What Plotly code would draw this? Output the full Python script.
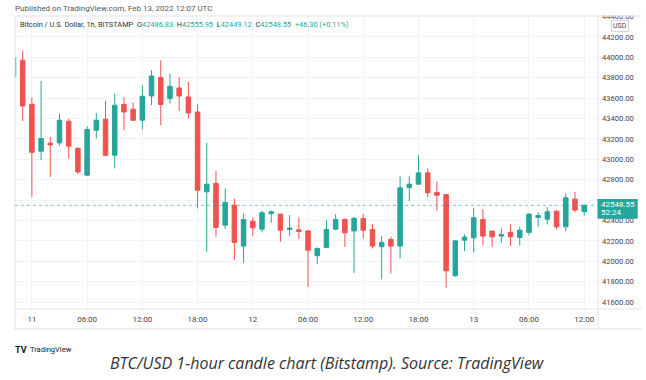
import pandas as pd
import plotly.graph_objects as go

# ---------------- data ----------------
start_time = "2022-02-10 22:00"
n_candles = 63
times = pd.date_range(start_time, periods=n_candles, freq="h")

opens = [43807, 43971, 43540, 43079, 43158, 43161, 43373, 43106, 42844, 43285,
         43393, 43040, 43537, 43491, 43383, 43621, 43801, 43595, 43699, 43611,
         43464, 42681, 42763, 42354, 42550, 42149, 42393, 42315, 42469, 42462,
         42312, 42308, 42298, 42054, 42136, 42315, 42410, 42298, 42420, 42312,
         42142, 42214, 42149, 42724, 42756, 42867, 42675, 42655, 41858, 42207,
         42230, 42410, 42296, 42247, 42283, 42234, 42283, 42430, 42413, 42491,
         42338, 42609, 42486.83]
highs = [44010, 44069, 43605, 43768, 43219, 43449, 43400, 43121, 43324, 43454,
         43572, 43644, 43605, 43556, 43726, 43873, 43971, 43840, 43807, 43758,
         43540, 43161, 42886, 42714, 42616, 42469, 42430, 42494, 42500, 42469,
         42452, 42430, 42305, 42135, 42403, 42462, 42420, 42436, 42462, 42364,
         42249, 42240, 42834, 42834, 43040, 42910, 42785, 42660, 42205, 42263,
         42524, 42511, 42300, 42322, 42364, 42338, 42470, 42479, 42531, 42500,
         42665, 42681, 42555.95]
lows = [43790, 43376, 42632, 42991, 42827, 43135, 43008, 42854, 42835, 43204,
        43030, 42910, 43285, 43376, 43292, 43530, 43334, 43547, 43474, 43400,
        42518, 42093, 42240, 42315, 42011, 41985, 42249, 42283, 42377, 42191,
        42249, 42217, 41750, 41972, 42130, 42305, 42142, 41887, 42224, 42126,
        41822, 41881, 42028, 42592, 42750, 42626, 42494, 41740, 41850, 42100,
        42087, 42158, 42142, 42181, 42149, 42152, 42256, 42338, 42361, 42312,
        42296, 42479, 42449.12]
closes = [43997, 43523, 43069, 43204, 43141, 43383, 43128, 42876, 43292, 43383,
          43040, 43530, 43464, 43383, 43618, 43817, 43537, 43716, 43621, 43454,
          42697, 42756, 42332, 42577, 42185, 42410, 42328, 42475, 42485, 42305,
          42325, 42293, 42109, 42126, 42312, 42410, 42279, 42420, 42305, 42149,
          42185, 42149, 42720, 42756, 42867, 42671, 42648, 41907, 42200, 42237,
          42426, 42247, 42240, 42263, 42240, 42305, 42462, 42449, 42485, 42338,
          42622, 42502.25, 42548.55]

last_price = 42548.55
last_open, last_high, last_low, last_change, last_pct = "42486.83", "42555.95", "42449.12", "+46.30", "(+0.11%)"
countdown = "52:24"

x_tick_vals = ["2022-02-11 00:00", "2022-02-11 06:00", "2022-02-11 12:00", "2022-02-11 18:00",
               "2022-02-12 00:00", "2022-02-12 06:00", "2022-02-12 12:00", "2022-02-12 18:00",
               "2022-02-13 00:00", "2022-02-13 06:00", "2022-02-13 12:00"]
x_tick_text = ["11", "06:00", "12:00", "18:00", "12", "06:00", "12:00", "18:00", "13", "06:00", "12:00"]
y_tick_vals = [41600, 41800, 42000, 42200, 42400, 42600, 42800, 43000, 43200,
               43400, 43600, 43800, 44000, 44200, 44400]
hidden_label = 42600  # covered by the last-price tag in the reference
y_tick_text = ["" if v == hidden_label else "%.2f" % v for v in y_tick_vals]

x_range = ["2022-02-10 22:10", "2022-02-13 13:30"]
y_range = [41532, 44405]

# ---------------- layout helpers ----------------
W, H = 646, 380
PL, PR, PT, PB = 15, 602, 15, 309


def fx(px):
    return (px - PL) / (PR - PL)


def fy(py):
    return (PB - py) / (PB - PT)


UP = "#26a69a"
DOWN = "#ef5350"
FRAME = "#e0e3eb"
GRID = "#f0f3fa"
FONT = "Roboto, DejaVu Sans, sans-serif"

fig = go.Figure()
fig.add_trace(go.Candlestick(
    x=times, open=opens, high=highs, low=lows, close=closes,
    increasing=dict(line=dict(color=UP, width=1), fillcolor=UP),
    decreasing=dict(line=dict(color=DOWN, width=1), fillcolor=DOWN),
    whiskerwidth=0, showlegend=False, hoverinfo="skip",
))

shapes = []


def line(x0, y0, x1, y1, color=FRAME, width=1, dash="solid"):
    shapes.append(dict(type="line", xref="paper", yref="paper",
                       x0=fx(x0), y0=fy(y0), x1=fx(x1), y1=fy(y1),
                       line=dict(color=color, width=width, dash=dash), layer="above"))


# white cover clipping top of the highest price label
shapes.append(dict(type="rect", xref="paper", yref="paper", x0=fx(602.5), x1=fx(646),
                   y0=fy(0), y1=fy(14.5), fillcolor="white", line=dict(width=0), layer="above"))
# frame
line(15, 15, 646, 15)
line(15, 15, 15, 329)
line(15, 329, 646, 329)
line(602, 15, 602, 329)
line(15, 309, 646, 309)
# last price dotted line
shapes.append(dict(type="line", xref="paper", yref="y", x0=0, x1=1, y0=last_price, y1=last_price,
                   line=dict(color=UP, width=1, dash="dot"), opacity=0.6, layer="above"))
# price tag
shapes.append(dict(type="rect", xref="paper", yref="paper", x0=fx(601.5), x1=fx(642),
                   y0=fy(218.5), y1=fy(198.5), fillcolor=UP, line=dict(width=0), layer="above"))

teal = lambda s: "<span style='color:%s'>%s</span>" % (UP, s)
sp = "\u00a0\u00a0"
header = ("Bitcoin / U.S. Dollar, 1h, BITSTAMP" + sp +
          "O" + teal(last_open) + sp + "H" + teal(last_high) + sp +
          "L" + teal(last_low) + sp + "C" + teal("%.2f" % last_price) + sp +
          teal(last_change + " " + last_pct))

annotations = [
    dict(text="Published on TradingView.com, Feb 13, 2022 12:07 UTC", x=fx(13), y=fy(7),
         xanchor="left", yanchor="middle", font=dict(size=8, color="#555555", family=FONT)),
    dict(text=header, x=fx(18), y=fy(24), xanchor="left", yanchor="middle",
         font=dict(size=7.4, color="#333333", family=FONT)),
    dict(text="USD", x=fx(624), y=fy(25), xanchor="center", yanchor="middle",
         font=dict(size=7, color="#444444", family=FONT), bordercolor="#d1d4dc",
         borderwidth=1, borderpad=1, bgcolor="white"),
    dict(text="%.2f" % last_price, x=fx(603), y=fy(204), xanchor="left", yanchor="middle",
         font=dict(size=8, color="white", family=FONT)),
    dict(text=countdown, x=fx(603), y=fy(212.5), xanchor="left", yanchor="middle",
         font=dict(size=8, color="white", family=FONT)),
    dict(text="<b>TV</b>", x=fx(13), y=fy(350), xanchor="left", yanchor="middle",
         font=dict(size=9, color="#131722", family=FONT)),
    dict(text="TradingView", x=fx(28), y=fy(350), xanchor="left", yanchor="middle",
         font=dict(size=7.5, color="#131722", family=FONT)),
    dict(text="<i>BTC/USD 1-hour candle chart (Bitstamp). Source: TradingView</i>",
         x=fx(330), y=fy(363), xanchor="center", yanchor="middle",
         font=dict(size=16, color="#333333", family="Open Sans, sans-serif")),
]
for a in annotations:
    a.update(xref="paper", yref="paper", showarrow=False)

fig.update_layout(
    width=W, height=H,
    margin=dict(l=PL, r=W - PR, t=PT, b=H - PB),
    paper_bgcolor="white", plot_bgcolor="white",
    shapes=shapes, annotations=annotations,
    xaxis=dict(type="date", range=x_range, rangeslider=dict(visible=False),
               tickvals=x_tick_vals, ticktext=x_tick_text, showgrid=True, gridcolor=GRID,
               gridwidth=1, zeroline=False, showline=False, ticks="",
               ticklabelstandoff=4,
               tickfont=dict(size=8, color="#444444", family=FONT)),
    yaxis=dict(side="right", range=y_range, tickvals=y_tick_vals, ticktext=y_tick_text,
               showgrid=True, gridcolor=GRID, gridwidth=1, zeroline=False, showline=False,
               ticks="", ticklabelstandoff=3,
               tickfont=dict(size=7.6, color="#444444", family=FONT)),
)

fig.write_html("out.html", config={"displayModeBar": False, "staticPlot": True},
               post_script="document.body.style.margin='0';")
